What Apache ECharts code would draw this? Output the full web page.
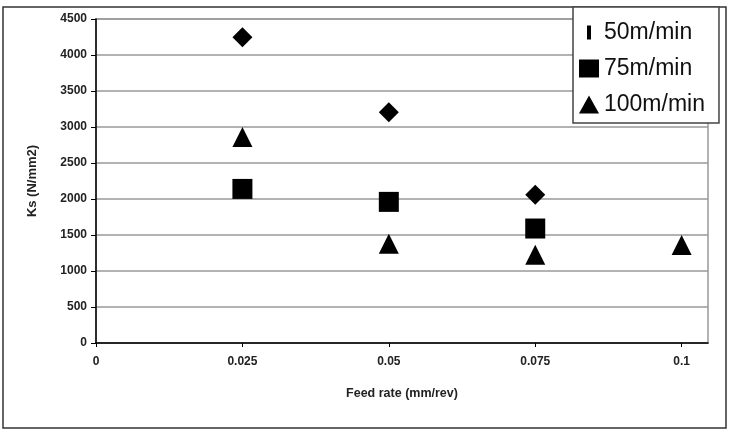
<!DOCTYPE html>
<html>
<head>
<meta charset="utf-8">
<script src="https://cdn.jsdelivr.net/npm/echarts@6/dist/echarts.min.js"></script>
<style>
  html, body { margin: 0; padding: 0; background: #fff; }
  #chart { width: 733px; height: 432px; }
</style>
</head>
<body>
<div id="chart"></div>
<script>
// values
const feedRates = [0.025, 0.05, 0.075, 0.1];
const ks50 = [4245, 3205, 2060];
const ks75 = [2140, 1960, 1590];
const ks100 = [2860, 1380, 1225, 1360];
const seriesNames = ["50m/min", "75m/min", "100m/min"];

const font = "'Liberation Sans', Arial, sans-serif";

function pairs(ys) {
  return ys.map((y, i) => [feedRates[i], y]);
}

const chart = echarts.init(document.getElementById("chart"));

const option = {
  animation: false,
  backgroundColor: "#fff",
  textStyle: { fontFamily: font },
  graphic: [
    {
      // outer frame of the chart
      type: "rect",
      shape: { x: 3, y: 7, width: 723, height: 421 },
      style: { fill: "none", stroke: "#333", lineWidth: 1.5 },
      z: 0
    }
  ],
  grid: {
    left: 96,
    right: 25,
    top: 19,
    bottom: 89,
    show: true,
    borderColor: "#999",
    borderWidth: 1.5
  },
  legend: {
    orient: "vertical",
    left: 573,
    top: 7,
    padding: [14, 14, 7, 6],
    itemGap: 13,
    itemWidth: 20,
    itemHeight: 18,
    backgroundColor: "#fff",
    borderColor: "#444",
    borderWidth: 1.5,
    itemStyle: { color: "#000", opacity: 1 },
    textStyle: { fontSize: 23, color: "#111", fontFamily: font },
    data: [
      { name: seriesNames[0], icon: "path://M0,0M8,2H12V16H8ZM20,18" },
      { name: seriesNames[1], icon: "rect" },
      { name: seriesNames[2], icon: "triangle" }
    ]
  },
  xAxis: {
    type: "value",
    min: 0,
    max: 0.1045,
    interval: 0.025,
    name: "Feed rate (mm/rev)",
    nameLocation: "middle",
    nameGap: 44,
    nameTextStyle: { fontSize: 12.5, fontWeight: "bold", color: "#222" },
    axisLine: { show: true, lineStyle: { color: "#000", width: 1.5 } },
    axisTick: { show: true, length: 4, lineStyle: { color: "#000" } },
    axisLabel: {
      margin: 13,
      fontSize: 12,
      fontWeight: "bold",
      color: "#222",
      showMaxLabel: false,
      formatter: v => String(+v.toFixed(3))
    },
    splitLine: { show: false }
  },
  yAxis: {
    type: "value",
    min: 0,
    max: 4500,
    interval: 500,
    name: "Ks (N/mm2)",
    nameLocation: "middle",
    nameGap: 57,
    nameTextStyle: { fontSize: 13, fontWeight: "bold", color: "#222" },
    axisLine: { show: true, lineStyle: { color: "#000", width: 1.5 } },
    axisTick: { show: true, length: 5, lineStyle: { color: "#000" } },
    axisLabel: {
      margin: 9,
      fontSize: 12,
      fontWeight: "bold",
      color: "#222",
      formatter: v => String(v)
    },
    splitLine: { show: true, lineStyle: { color: "#999", width: 1.5 } }
  },
  series: [
    {
      name: seriesNames[0],
      type: "scatter",
      symbol: "diamond",
      symbolSize: 20,
      itemStyle: { color: "#000", opacity: 1 },
      data: pairs(ks50)
    },
    {
      name: seriesNames[1],
      type: "scatter",
      symbol: "rect",
      symbolSize: 20,
      itemStyle: { color: "#000", opacity: 1 },
      data: pairs(ks75)
    },
    {
      name: seriesNames[2],
      type: "scatter",
      symbol: "triangle",
      symbolSize: [20, 20],
      itemStyle: { color: "#000", opacity: 1 },
      data: pairs(ks100)
    }
  ]
};

chart.setOption(option);
</script>
</body>
</html>
